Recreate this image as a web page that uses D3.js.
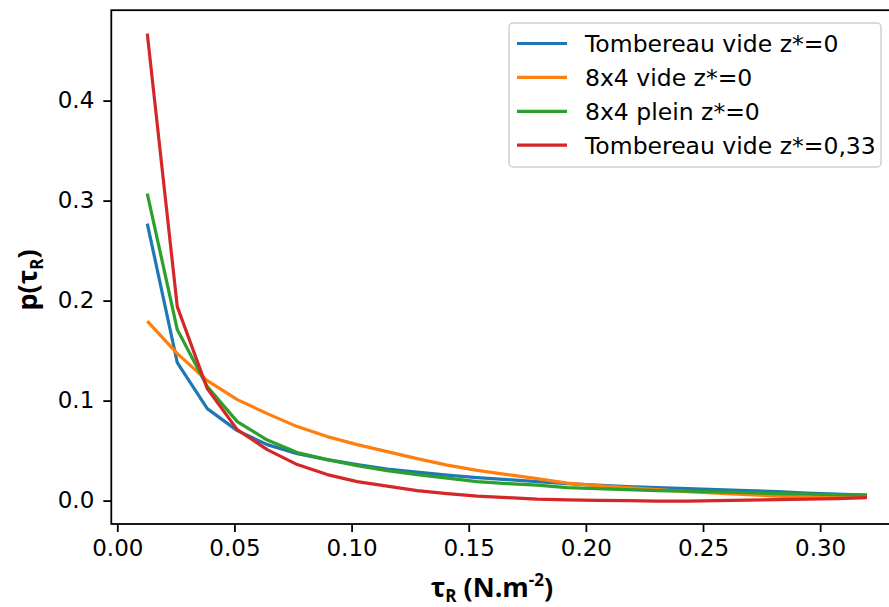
<!DOCTYPE html>
<html>
<head>
<meta charset="utf-8">
<script src="https://cdn.jsdelivr.net/npm/d3@7"></script>
<style>
  html, body { margin: 0; padding: 0; background: #fff; }
  svg { display: block; }
</style>
</head>
<body>
<svg id="chart" width="889" height="607"></svg>
<script>
// ---- data ----
const tau = d3.range(1, 26).map(i => +(i * 0.0128).toFixed(4));
const seriesNames = ["Tombereau vide z*=0", "8x4 vide z*=0", "8x4 plein z*=0", "Tombereau vide z*=0,33"];
const tombereauVide = [0.277, 0.138, 0.092, 0.070, 0.056, 0.047, 0.041, 0.036, 0.0315, 0.0285, 0.0255, 0.023, 0.021, 0.019, 0.017, 0.0155, 0.014, 0.013, 0.012, 0.011, 0.010, 0.009, 0.0075, 0.0065, 0.0055];
const vide8x4 = [0.1795, 0.147, 0.120, 0.101, 0.087, 0.074, 0.064, 0.056, 0.049, 0.042, 0.0355, 0.0303, 0.026, 0.022, 0.0175, 0.015, 0.013, 0.011, 0.009, 0.0075, 0.006, 0.0045, 0.0035, 0.0035, 0.0045];
const plein8x4 = [0.307, 0.171, 0.114, 0.079, 0.0605, 0.048, 0.041, 0.035, 0.030, 0.026, 0.0225, 0.019, 0.017, 0.0155, 0.013, 0.012, 0.011, 0.010, 0.0095, 0.0088, 0.008, 0.007, 0.0065, 0.006, 0.0055];
const tombereauVide033 = [0.467, 0.194, 0.112, 0.071, 0.051, 0.036, 0.026, 0.019, 0.0145, 0.010, 0.007, 0.0045, 0.003, 0.0015, 0.0008, 0.0003, 0.0, -0.0005, -0.0005, 0.0, 0.0005, 0.001, 0.0015, 0.002, 0.003];
const seriesValues = [tombereauVide, vide8x4, plein8x4, tombereauVide033];
const colors = ["#1f77b4", "#ff7f0e", "#2ca02c", "#d62728"];
const xTicks = [0.00, 0.05, 0.10, 0.15, 0.20, 0.25, 0.30];
const yTicks = [0.0, 0.1, 0.2, 0.3, 0.4];

// ---- layout ----
const svg = d3.select("#chart");
const plotLeft = 111.3, plotRight = 903, plotTop = 10.2, plotBottom = 524;
const x = d3.scaleLinear().domain([-0.00256, 0.33536]).range([plotLeft, plotRight]);
const y = d3.scaleLinear().domain([-0.0234, 0.4904]).range([plotBottom, plotTop]);
const tickFont = "'DejaVu Sans', sans-serif";

// lines
const line = d3.line().x((d, i) => x(tau[i])).y(d => y(d));
seriesValues.forEach((vals, k) => {
  svg.append("path")
    .datum(vals)
    .attr("d", line)
    .attr("fill", "none")
    .attr("stroke", colors[k])
    .attr("stroke-width", 3.2)
    .attr("stroke-linejoin", "round")
    .attr("stroke-linecap", "butt");
});

// axes
const xAxis = d3.axisBottom(x).tickValues(xTicks).tickFormat(d3.format(".2f")).tickSize(8).tickPadding(8);
const yAxis = d3.axisLeft(y).tickValues(yTicks).tickFormat(d3.format(".1f")).tickSize(8).tickPadding(9);
const gx = svg.append("g").attr("transform", `translate(0,${plotBottom})`).call(xAxis);
const gy = svg.append("g").attr("transform", `translate(${plotLeft},0)`).call(yAxis);
[gx, gy].forEach(g => {
  g.select(".domain").remove();
  g.selectAll(".tick line").attr("stroke", "#000").attr("stroke-width", 1.8);
  g.selectAll(".tick text").attr("font-family", tickFont).attr("font-size", 23).attr("fill", "#000");
});

// frame
svg.append("rect")
  .attr("x", plotLeft).attr("y", plotTop).attr("width", plotRight - plotLeft).attr("height", plotBottom - plotTop)
  .attr("fill", "none").attr("stroke", "#000").attr("stroke-width", 1.8);

// legend
const lg = svg.append("g");
lg.append("rect")
  .attr("x", 509).attr("y", 23).attr("width", 372).attr("height", 144)
  .attr("rx", 4).attr("fill", "#fff").attr("fill-opacity", 0.8)
  .attr("stroke", "#d0d0d0").attr("stroke-width", 1.5);
seriesNames.forEach((name, k) => {
  const ly = 43.5 + k * 33.9;
  lg.append("line").attr("x1", 517).attr("x2", 567).attr("y1", ly).attr("y2", ly)
    .attr("stroke", colors[k]).attr("stroke-width", 3.2);
  lg.append("text").attr("x", 585).attr("y", ly + 8.5)
    .attr("font-family", tickFont).attr("font-size", 23.5).attr("fill", "#000")
    .text(name);
});

// axis labels
const labFont = "'Open Sans', 'Noto Sans', sans-serif";
const xl = svg.append("text").attr("x", 492).attr("y", 597).attr("text-anchor", "middle")
  .attr("font-family", labFont).attr("font-weight", "bold").attr("font-size", 27).attr("fill", "#000");
xl.append("tspan").text("τ");
xl.append("tspan").attr("font-size", 17).attr("dy", 5).text("R");
xl.append("tspan").attr("dy", -5).text(" (N.m");
xl.append("tspan").attr("font-size", 17).attr("dy", -11).text("-2");
xl.append("tspan").attr("dy", 11).text(")");

const yl = svg.append("text").attr("transform", "translate(37,280) rotate(-90)").attr("text-anchor", "middle")
  .attr("font-family", labFont).attr("font-weight", "bold").attr("font-size", 27).attr("fill", "#000");
yl.append("tspan").text("p(τ");
yl.append("tspan").attr("font-size", 17).attr("dy", 6).text("R");
yl.append("tspan").attr("dy", -6).text(")");
</script>
</body>
</html>
